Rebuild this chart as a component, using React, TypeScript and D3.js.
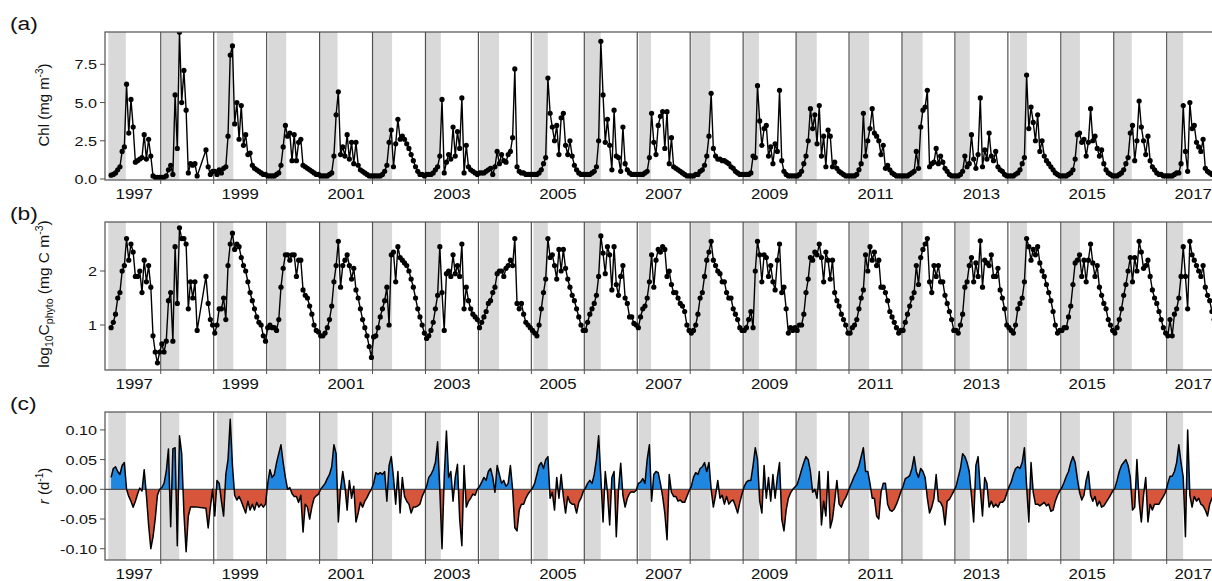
import * as d3 from 'd3'

// time axis: one row per year, 24 samples per row (half-month steps)
const years = [1997, 1998, 1999, 2000, 2001, 2002, 2003, 2004, 2005, 2006, 2007, 2008, 2009, 2010, 2011, 2012, 2013, 2014, 2015, 2016, 2017]
const yearLabels = [1997, 1999, 2001, 2003, 2005, 2007, 2009, 2011, 2013, 2015, 2017]

// shaded period of each year (fraction of the year)
const bandStart = [0.01, 0.02, 0.06, 0.03, 0.01, 0.0, 0.0, 0.03, 0.04, 0.0, 0.03, 0.02, 0.02, 0.01, 0.02, 0.01, 0.02, 0.04, 0.02, 0.01, 0.02]
const bandEnd = [0.34, 0.35, 0.37, 0.37, 0.34, 0.37, 0.29, 0.39, 0.31, 0.31, 0.26, 0.38, 0.30, 0.39, 0.38, 0.39, 0.28, 0.36, 0.36, 0.34, 0.31]

// (a) Chl, mg m-3
const chl: (number | null)[][] = [
  [null, 0.25, 0.3, 0.4, 0.6, 0.8, 1.8, 2.1, 6.2, 3.0, 5.2, 3.4, 1.1, 1.2, 1.3, 1.4, 2.9, 1.3, 2.6, 1.5, 0.2, 0.1, 0.1, 0.1],
  [0.1, 0.1, 0.2, 0.6, 0.9, 0.3, 5.5, 2.0, 9.6, 5.0, 7.1, 4.5, 0.4, 1.0, 0.9, 1.0, 0.2, null, null, null, 1.9, 0.8, 0.3, 0.5],
  [0.5, 0.3, 0.6, 0.4, 0.7, 0.8, 2.8, 8.1, 8.7, 3.6, 5.0, 2.6, 4.8, 2.2, 2.9, 1.6, 1.7, 0.9, 0.7, 0.6, 0.5, 0.4, 0.3, 0.3],
  [0.2, 0.2, 0.2, 0.2, 0.3, 0.4, 0.9, 2.1, 3.5, 2.8, 3.0, 1.2, 2.9, 1.2, 2.4, 2.6, 0.9, 0.8, 0.7, 0.6, 0.5, 0.4, 0.3, 0.3],
  [0.2, 0.2, 0.2, 0.2, 0.3, 0.4, 1.5, 4.2, 5.7, 1.6, 2.1, 1.5, 2.9, 1.3, 2.4, 1.0, 2.4, 0.9, 0.6, 0.5, 0.4, 0.3, 0.2, 0.2],
  [0.2, 0.2, 0.2, 0.2, 0.3, 0.5, 0.9, 2.4, 3.2, 0.8, 2.3, 3.9, 2.6, 2.8, 2.6, 2.3, 2.0, 1.6, 1.2, 0.8, 0.5, 0.3, 0.3, 0.2],
  [0.3, 0.3, 0.3, 0.4, 0.6, 0.8, 1.5, 5.2, 0.4, 1.1, 1.6, 1.3, 3.4, 1.5, 3.1, 2.0, 5.3, 0.4, 2.2, 0.8, 0.6, 0.5, 0.4, 0.3],
  [0.4, 0.4, 0.4, 0.5, 0.6, 0.7, 0.3, 0.8, 1.8, 1.0, 1.6, 1.2, 1.1, 1.6, 1.8, 2.7, 7.2, 0.8, 0.5, 0.4, 0.4, 0.3, 0.3, 0.3],
  [0.3, 0.3, 0.3, 0.4, 0.6, 1.0, 1.4, 6.6, 4.3, 3.4, 2.5, 3.5, 1.6, 4.0, 4.3, 2.2, 1.6, 2.5, 1.5, 0.9, 0.6, 0.4, 0.3, 0.3],
  [0.3, 0.3, 0.3, 0.4, 0.5, 0.8, 2.5, 9.0, 5.5, 2.4, 3.9, 2.2, 0.6, 4.5, 1.5, 1.4, 0.5, 3.4, 1.0, 0.6, 0.4, 0.3, 0.3, 0.3],
  [0.3, 0.3, 0.3, 0.4, 0.5, 1.4, 4.3, 2.4, 1.6, 3.5, 4.1, 4.4, 2.0, 4.4, 1.0, 2.7, 0.8, 0.7, 0.6, 0.5, 0.4, 0.3, 0.2, 0.2],
  [0.2, 0.2, 0.3, 0.3, 0.5, 0.6, 0.9, 1.5, 2.8, 5.6, 2.0, 1.5, 1.3, 1.3, 1.2, 1.2, 1.1, 1.0, 0.8, 0.7, 0.5, 0.4, 0.3, 0.3],
  [0.3, 0.3, 0.3, 0.4, 1.5, 1.4, 6.1, 3.8, 2.2, 3.3, 3.5, 1.5, 2.1, 1.0, 2.3, 1.8, 5.8, 1.2, 0.5, 0.3, 0.2, 0.2, 0.2, 0.2],
  [0.2, 0.3, 0.5, 1.0, 1.5, 2.5, 4.6, 3.3, 4.2, 2.3, 4.8, 1.5, 2.8, 0.8, 3.2, 2.8, 0.8, 1.1, 0.7, 0.5, 0.4, 0.3, 0.2, 0.2],
  [0.2, 0.2, 0.2, 0.3, 0.6, 1.0, 4.3, 1.5, 2.5, 3.3, 4.6, 3.0, 2.8, 2.5, 1.6, 2.2, 0.7, 0.9, 0.6, 0.4, 0.3, 0.2, 0.2, 0.2],
  [0.2, 0.2, 0.2, 0.3, 0.4, 0.5, 1.8, 0.7, 3.4, 4.5, 4.7, 5.8, 0.8, 1.0, 1.1, 2.0, 1.0, 1.5, 1.1, 0.7, 0.5, 0.3, 0.2, 0.2],
  [0.2, 0.2, 0.3, 0.5, 1.5, 0.8, 1.0, 2.9, 1.3, 0.7, 1.6, 5.3, 0.8, 1.9, 1.3, 3.0, 1.5, 1.2, 1.8, 0.8, 0.6, 0.5, 0.3, 0.2],
  [0.2, 0.2, 0.2, 0.3, 0.4, 0.6, 1.0, 1.4, 6.8, 3.3, 4.7, 3.7, 2.5, 4.2, 1.8, 2.5, 1.5, 1.2, 1.0, 0.8, 0.6, 0.4, 0.3, 0.2],
  [0.2, 0.2, 0.2, 0.3, 0.4, 0.6, 1.3, 2.9, 3.0, 2.4, 2.6, 1.5, 2.4, 4.6, 2.5, 2.8, 2.0, 1.5, 1.9, 1.0, 0.6, 0.4, 0.3, 0.2],
  [0.2, 0.2, 0.3, 0.4, 0.6, 1.0, 1.4, 3.0, 3.5, 1.2, 2.5, 5.1, 3.4, 2.5, 1.6, 2.8, 1.2, 0.8, 0.6, 0.4, 0.3, 0.3, 0.2, 0.2],
  [0.2, 0.2, 0.2, 0.3, 0.4, 0.4, 1.0, 4.8, 1.8, 0.5, 5.0, 3.3, 3.5, 2.4, 2.1, 1.8, 2.6, 0.7, 0.5, 0.4, 0.3, 0.3, 0.3, 0.3],
]

// (b) log10 Cphyto, mg C m-3
const logC: (number | null)[][] = [
  [null, 0.95, 1.05, 1.2, 1.5, 1.6, 2.0, 2.1, 2.6, 2.2, 2.5, 2.35, 1.9, 1.9, 2.0, 1.6, 2.2, 1.8, 2.1, 1.7, 0.8, 0.5, 0.3, 0.5],
  [0.65, 0.5, 0.7, 1.45, 1.6, 0.7, 2.45, 1.4, 2.8, 2.6, 2.6, 2.5, 1.3, 1.8, 1.5, 1.8, 0.9, null, null, null, 1.9, 1.4, 1.1, 1.0],
  [0.85, 1.0, 1.3, 1.3, 1.5, 1.1, 2.1, 2.5, 2.7, 2.4, 2.5, 2.45, 2.25, 2.1, 2.0, 1.8, 1.6, 1.45, 1.3, 1.15, 1.05, 1.0, 0.8, 0.7],
  [0.95, 1.0, 0.95, 0.95, 0.9, 1.1, 1.7, 2.05, 2.3, 2.3, 2.2, 2.3, 2.3, 1.9, 2.2, 2.2, 1.65, 1.55, 1.5, 1.35, 1.2, 1.0, 0.9, 0.87],
  [0.8, 0.8, 0.85, 0.95, 1.1, 1.35, 1.8, 2.1, 2.55, 1.7, 2.1, 2.2, 2.3, 2.1, 1.85, 2.05, 1.65, 1.5, 1.3, 1.1, 0.95, 0.8, 0.6, 0.4],
  [0.78, 0.8, 0.95, 1.15, 1.3, 1.45, 1.7, 1.0, 2.3, 2.35, 1.8, 2.45, 2.25, 2.2, 2.15, 2.1, 2.0, 1.85, 1.7, 1.5, 1.3, 1.15, 1.0, 0.85],
  [0.75, 0.8, 0.9, 1.05, 1.3, 1.55, 2.45, 1.6, 0.9, 1.95, 2.0, 1.9, 2.3, 1.95, 2.1, 1.9, 2.5, 1.3, 1.7, 1.45, 1.3, 1.2, 1.15, 1.1],
  [0.95, 1.05, 1.15, 1.25, 1.4, 1.45, 1.6, 1.7, 1.95, 2.0, 2.0, 1.9, 2.05, 2.1, 2.2, 2.1, 2.6, 1.4, 1.3, 1.4, 1.2, 1.05, 1.0, 0.95],
  [0.9, 0.85, 0.8, 1.0, 1.3, 1.6, 1.85, 2.6, 2.25, 2.3, 2.1, 1.85, 2.4, 2.0, 2.4, 2.05, 1.85, 1.7, 1.55, 1.45, 1.3, 1.15, 1.0, 0.9],
  [0.9, 1.05, 1.2, 1.3, 1.4, 1.55, 1.9, 2.65, 2.33, 1.95, 2.45, 2.3, 1.65, 2.45, 1.75, 1.55, 1.9, 2.1, 1.5, 1.4, 1.15, 1.15, 1.03, 1.0],
  [0.95, 1.15, 1.3, 1.35, 1.5, 1.8, 2.3, 1.7, 2.2, 2.4, 2.35, 2.45, 2.4, 1.9, 2.0, 1.75, 1.6, 1.6, 1.5, 1.4, 1.35, 1.25, 1.0, 0.9],
  [0.85, 0.9, 1.0, 1.2, 1.5, 1.6, 1.9, 2.2, 2.35, 2.55, 2.2, 2.1, 2.0, 1.95, 1.8, 1.8, 1.6, 1.5, 1.5, 1.3, 1.2, 1.1, 0.95, 0.9],
  [0.9, 0.95, 1.1, 1.25, 0.95, 2.0, 2.55, 2.3, 1.8, 2.3, 2.25, 1.9, 2.1, 1.8, 1.65, 2.2, 2.5, 1.6, 1.7, 1.3, 0.85, 0.95, 0.9, 0.95],
  [0.9, 1.0, 1.0, 1.2, 1.6, 1.85, 2.25, 2.2, 2.35, 2.3, 2.5, 2.25, 1.8, 2.35, 2.2, 1.85, 2.2, 1.6, 1.45, 1.35, 1.2, 1.1, 1.0, 0.85],
  [0.85, 0.95, 1.0, 1.1, 1.3, 1.5, 1.65, 2.3, 2.0, 2.45, 2.2, 2.35, 2.1, 2.2, 1.7, 1.7, 1.6, 1.45, 1.25, 1.15, 1.05, 0.95, 0.85, 0.9],
  [0.9, 1.05, 1.2, 1.35, 1.5, 1.6, 2.1, 1.75, 2.25, 2.4, 2.5, 2.6, 1.8, 1.6, 2.1, 1.9, 2.1, 1.8, 1.8, 1.55, 1.4, 1.25, 1.1, 0.9],
  [0.9, 0.85, 1.0, 1.2, 1.7, 1.8, 2.1, 2.25, 1.8, 2.15, 1.9, 2.56, 1.7, 2.2, 2.15, 2.1, 2.3, 1.9, 1.9, 2.05, 1.65, 1.5, 1.3, 1.0],
  [0.95, 0.9, 0.85, 1.0, 1.3, 1.4, 1.5, 1.8, 2.6, 2.45, 2.2, 2.4, 2.3, 2.45, 2.15, 2.0, 1.9, 1.75, 1.6, 1.45, 1.25, 1.0, 0.85, 0.9],
  [0.9, 0.95, 0.95, 1.15, 1.35, 1.75, 2.15, 2.2, 2.3, 1.9, 2.2, 1.8, 2.2, 2.5, 2.15, 1.9, 2.1, 1.7, 1.55, 1.4, 1.3, 1.1, 1.0, 0.9],
  [0.85, 0.95, 1.1, 1.3, 1.55, 1.75, 2.0, 2.25, 1.8, 2.25, 2.0, 2.55, 2.35, 2.05, 2.1, 2.2, 1.9, 1.65, 1.5, 1.4, 1.25, 1.1, 0.95, 0.85],
  [0.8, 1.1, 0.8, 1.2, 1.3, 1.5, 1.9, 2.45, 1.9, 1.3, 2.55, 2.3, 2.2, 2.1, 2.0, 1.9, 2.1, 1.7, 1.55, 1.45, 1.25, 1.1, 1.0, 0.9],
]

// (c) growth rate r, d-1
const growth: (number | null)[][] = [
  [null, 0.02, 0.035, 0.038, 0.03, 0.025, 0.04, 0.045, 0.0, -0.012, -0.02, -0.03, -0.02, -0.008, 0.002, -0.003, 0.033, -0.01, -0.06, -0.1, -0.08, -0.05, -0.01, 0.0],
  [0.003, 0.01, 0.03, 0.068, -0.063, 0.068, 0.07, -0.095, 0.09, 0.06, -0.04, -0.105, -0.045, -0.03, -0.03, -0.03, -0.03, null, null, null, -0.032, -0.065, -0.03, 0.0],
  [-0.045, 0.015, 0.01, -0.02, -0.045, 0.025, 0.05, 0.118, 0.04, -0.01, -0.018, -0.012, -0.02, -0.03, -0.04, -0.02, -0.035, -0.025, -0.035, -0.022, -0.03, -0.025, -0.03, -0.025],
  [0.01, 0.033, 0.02, 0.025, 0.045, 0.06, 0.075, 0.045, 0.02, 0.0, 0.003, -0.007, -0.012, -0.012, -0.022, -0.01, -0.072, -0.025, -0.03, -0.05, -0.03, -0.015, -0.011, -0.008],
  [0.0, 0.005, 0.01, 0.018, 0.025, 0.038, 0.075, 0.06, -0.055, 0.0, 0.03, 0.005, -0.035, 0.015, -0.015, 0.005, -0.055, -0.04, -0.022, -0.03, -0.02, -0.014, -0.006, 0.0],
  [0.01, 0.028, 0.025, 0.028, 0.025, 0.03, -0.02, 0.04, 0.055, 0.02, -0.025, 0.03, -0.04, 0.02, -0.012, -0.02, -0.025, -0.04, -0.03, -0.03, -0.028, -0.025, -0.012, -0.004],
  [0.005, 0.02, 0.025, 0.033, 0.045, 0.08, 0.0, -0.1, 0.02, 0.098, 0.02, 0.03, -0.02, 0.02, 0.042, -0.05, -0.095, 0.04, -0.03, -0.02, -0.015, -0.008, -0.01, 0.0],
  [0.005, 0.012, 0.02, 0.015, 0.03, 0.035, 0.02, -0.005, 0.04, 0.025, 0.01, 0.015, 0.005, 0.01, 0.04, 0.0, -0.065, -0.07, -0.035, -0.025, -0.025, -0.015, -0.008, -0.003],
  [0.002, 0.01, 0.025, 0.04, 0.045, 0.035, 0.05, 0.055, -0.015, -0.005, -0.035, 0.02, -0.015, 0.025, -0.012, -0.04, -0.012, -0.022, -0.025, -0.025, -0.04, -0.022, -0.015, -0.004],
  [0.002, 0.01, 0.015, 0.01, 0.025, 0.05, 0.09, 0.02, -0.055, 0.03, -0.005, -0.06, 0.02, 0.03, -0.08, 0.0, 0.044, -0.01, -0.03, -0.015, -0.007, -0.004, -0.005, -0.002],
  [0.01, 0.012, 0.018, 0.01, 0.05, 0.075, -0.02, 0.025, 0.03, 0.028, 0.01, -0.012, -0.04, -0.085, 0.025, -0.005, -0.012, -0.012, -0.02, -0.018, -0.022, -0.022, -0.012, -0.003],
  [0.005, 0.02, 0.028, 0.025, 0.035, 0.038, 0.045, 0.03, 0.045, 0.0, -0.03, -0.01, 0.015, -0.015, -0.01, -0.025, -0.012, -0.025, -0.02, -0.018, -0.028, -0.04, -0.022, -0.008],
  [0.005, 0.012, 0.015, 0.015, 0.04, 0.07, 0.05, -0.02, -0.04, 0.04, -0.015, 0.02, -0.02, 0.025, -0.015, 0.02, 0.045, -0.05, -0.07, -0.035, -0.015, -0.006, 0.0, 0.004],
  [0.008, 0.02, 0.033, 0.045, 0.055, 0.05, 0.03, -0.005, 0.0, -0.015, 0.03, -0.06, -0.02, -0.045, 0.03, -0.065, -0.05, -0.02, 0.015, -0.025, -0.03, -0.02, -0.014, -0.005],
  [0.005, 0.014, 0.023, 0.03, 0.04, 0.055, 0.07, 0.03, 0.03, 0.01, -0.015, -0.015, -0.045, -0.05, -0.005, 0.01, 0.01, -0.025, -0.035, -0.037, -0.033, -0.025, -0.015, -0.004],
  [0.005, 0.018, 0.02, 0.023, 0.035, 0.055, 0.03, 0.02, 0.035, 0.03, 0.02, -0.015, -0.04, -0.03, -0.015, 0.025, -0.02, -0.022, -0.03, -0.06, -0.02, -0.017, -0.01, -0.003],
  [0.005, 0.02, 0.035, 0.06, 0.055, 0.045, 0.03, -0.012, -0.055, 0.04, 0.055, 0.0, -0.045, 0.02, 0.01, -0.03, -0.02, -0.03, -0.025, -0.03, -0.022, -0.022, -0.018, -0.007],
  [0.004, 0.012, 0.025, 0.035, 0.038, 0.035, 0.045, 0.07, 0.005, -0.055, 0.045, -0.005, -0.025, -0.025, -0.028, -0.025, -0.022, -0.028, -0.025, -0.037, -0.035, -0.02, -0.01, -0.003],
  [0.003, 0.012, 0.022, 0.03, 0.045, 0.055, 0.045, 0.018, -0.005, -0.018, -0.01, 0.015, 0.03, -0.01, -0.02, -0.012, -0.028, -0.02, -0.03, -0.028, -0.022, -0.016, -0.01, -0.003],
  [0.002, 0.015, 0.03, 0.04, 0.045, 0.05, 0.04, 0.02, -0.035, -0.03, 0.05, -0.02, -0.055, -0.01, 0.02, -0.055, -0.025, -0.035, -0.025, -0.025, -0.025, -0.018, -0.012, -0.005],
  [0.01, 0.022, 0.022, 0.03, 0.045, 0.075, 0.045, 0.02, -0.08, 0.1, -0.01, -0.03, -0.012, -0.02, -0.015, -0.025, -0.028, -0.035, -0.045, -0.025, -0.015, -0.01, -0.005, 0.0],
]

const chlTicks = [0, 2.5, 5, 7.5]
const logTicks = [1, 2]
const rTicks = [-0.1, -0.05, 0, 0.05, 0.1]

const FONT = "'Liberation Sans', Arial, Helvetica, sans-serif"
const SX = 1.2 // lettering in the original is stretched sideways
const W = 1212, H = 581
const LEFT = 105, RIGHT = 1226
const GRID = '#505050'

const x = d3.scaleLinear().domain([1997, 2017]).range([107.8, 1166.7])

const PA = { top: 32, bottom: 180 }
const PB = { top: 222, bottom: 370 }
const PC = { top: 412, bottom: 560 }
const yA = d3.scaleLinear().domain([0, 7.5]).range([179, 64.3])
const yB = d3.scaleLinear().domain([1, 2]).range([325, 271])
const yC = d3.scaleLinear().domain([0, 0.1]).range([489.3, 429.9])

type Pt = { t: number; v: number }
const flatten = (rows: (number | null)[][]): Pt[] =>
  years.flatMap((yr, k) => rows[k].map((v, i) => (v == null ? null : { t: yr + (i + 0.5) / 24, v })))
    .filter((p): p is Pt => p != null)

const chlPts = flatten(chl)
const logPts = flatten(logC)
const rPts = flatten(growth)

function Txt({ x, y, size, anchor = 'middle', children }: any) {
  return (
    <text transform={`translate(${x},${y}) scale(${SX},1)`} textAnchor={anchor} fontSize={size} fontFamily={FONT} fill="#111">
      {children}
    </text>
  )
}

function Panel({ id, top, bottom, yScale, ticks, fmt, letter, children }: any) {
  const h = bottom - top
  return (
    <g>
      <defs>
        <clipPath id={id}><rect x={LEFT} y={top} width={RIGHT - LEFT} height={h} /></clipPath>
      </defs>
      <g clipPath={`url(#${id})`}>
        {years.map((yr, k) => (
          <rect key={yr} x={x(yr + bandStart[k])} y={top} width={x(yr + bandEnd[k]) - x(yr + bandStart[k])} height={h} fill="#d9d9d9" />
        ))}
        {years.slice(1).map(yr => (
          <line key={yr} x1={x(yr)} x2={x(yr)} y1={top} y2={bottom} stroke={GRID} strokeWidth={1.2} />
        ))}
        {children}
      </g>
      <rect x={LEFT} y={top} width={RIGHT - LEFT} height={h} fill="none" stroke={GRID} strokeWidth={1.2} />
      {ticks.map((t: number) => (
        <g key={t}>
          <line x1={LEFT - 5} x2={LEFT} y1={yScale(t)} y2={yScale(t)} stroke={GRID} />
          <Txt x={97} y={yScale(t) + 5} size={13.5} anchor="end">{fmt(t)}</Txt>
        </g>
      ))}
      {years.slice(1).map(yr => (
        <line key={yr} x1={x(yr)} x2={x(yr)} y1={bottom} y2={bottom + 4} stroke={GRID} />
      ))}
      {yearLabels.map(yr => (
        <Txt key={yr} x={x(yr + 0.5)} y={bottom + 18.5} size={14}>{yr}</Txt>
      ))}
      <Txt x={10} y={top - 2} size={19} anchor="start">{letter}</Txt>
    </g>
  )
}

function DotLine({ pts, y }: { pts: Pt[]; y: d3.ScaleLinear<number, number> }) {
  const line = d3.line<Pt>().x(d => x(d.t)).y(d => y(d.v))
  return (
    <g>
      <path d={line(pts) ?? ''} fill="none" stroke="#000" strokeWidth={1.4} strokeLinejoin="round" />
      {pts.map((p, i) => <circle key={i} cx={x(p.t)} cy={y(p.v)} r={2.6} fill="#000" />)}
    </g>
  )
}

function RateArea() {
  const zero = yC(0)
  const area = d3.area<Pt>().x(d => x(d.t)).y0(zero).y1(d => yC(d.v))
  const line = d3.line<Pt>().x(d => x(d.t)).y(d => yC(d.v))
  const d = area(rPts) ?? ''
  return (
    <g>
      <defs>
        <clipPath id="posClip"><rect x={LEFT} y={PC.top} width={RIGHT - LEFT} height={zero - PC.top} /></clipPath>
        <clipPath id="negClip"><rect x={LEFT} y={zero} width={RIGHT - LEFT} height={PC.bottom - zero} /></clipPath>
      </defs>
      <path d={d} fill="#1f87e0" clipPath="url(#posClip)" />
      <path d={d} fill="#d6553b" clipPath="url(#negClip)" />
      <line x1={LEFT} x2={RIGHT} y1={zero} y2={zero} stroke={GRID} strokeWidth={1.2} />
      <path d={line(rPts) ?? ''} fill="none" stroke="#000" strokeWidth={1.5} strokeLinejoin="round" />
    </g>
  )
}

export default function App() {
  const f1 = (v: number) => v.toFixed(1)
  const f0 = (v: number) => v.toFixed(0)
  const f2 = (v: number) => v.toFixed(2)
  return (
    <div style={{ position: 'absolute', left: 0, top: 0 }}>
      <svg width={W} height={H} style={{ display: 'block', background: '#fff' }}>
        <Panel id="pa" {...PA} yScale={yA} ticks={chlTicks} fmt={f1} letter="(a)">
          <DotLine pts={chlPts} y={yA} />
        </Panel>
        <Panel id="pb" {...PB} yScale={yB} ticks={logTicks} fmt={f0} letter="(b)">
          <DotLine pts={logPts} y={yB} />
        </Panel>
        <Panel id="pc" {...PC} yScale={yC} ticks={rTicks} fmt={f2} letter="(c)">
          <RateArea />
        </Panel>

        <text transform="translate(49,105) rotate(-90)" textAnchor="middle" fontSize={15} fontFamily={FONT} fill="#111">
          Chl (mg m<tspan dy={-6} fontSize={10}>-3</tspan><tspan dy={6}>)</tspan>
        </text>
        <text transform="translate(49,294) rotate(-90)" textAnchor="middle" fontSize={15.5} fontFamily={FONT} fill="#111">
          log<tspan dy={4} fontSize={10.5}>10</tspan><tspan dy={-4}>C</tspan><tspan dy={4} fontSize={10.5}>phyto</tspan>
          <tspan dy={-4}> (mg C m</tspan><tspan dy={-6} fontSize={10.5}>-3</tspan><tspan dy={6}>)</tspan>
        </text>
        <text transform="translate(49,486) rotate(-90)" textAnchor="middle" fontSize={15} fontFamily={FONT} fill="#111">
          <tspan fontStyle="italic">r</tspan> (d<tspan dy={-6} fontSize={10}>-1</tspan><tspan dy={6}>)</tspan>
        </text>
      </svg>
    </div>
  )
}
